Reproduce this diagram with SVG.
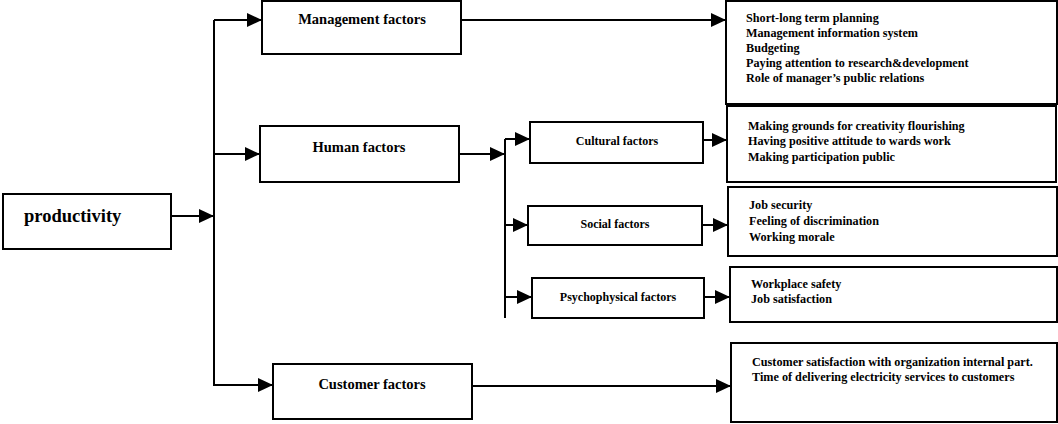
<svg xmlns="http://www.w3.org/2000/svg" width="1058" height="424" viewBox="0 0 1058 424">
<defs>
<style>
.box{fill:#fff;stroke:#000;stroke-width:2}
.ln{fill:none;stroke:#000;stroke-width:2}
.t{font-family:"Liberation Serif","Times New Roman",serif;font-weight:bold;fill:#000}
.lbl{font-size:14.5px;text-anchor:middle}
.sub{font-size:12px;text-anchor:middle}
.li{font-size:12.2px}
</style>
<marker id="ah" viewBox="0 0 15 14" refX="15" refY="7" markerWidth="15" markerHeight="14" markerUnits="userSpaceOnUse" orient="auto">
<path d="M0,0 L15,7 L0,14 Z" fill="#000"/>
</marker>
</defs>
<rect width="1058" height="424" fill="#fff"/>
<g id="connectors">
<path class="ln" d="M214,20 V386"/>
<path class="ln" d="M171,216 H214" marker-end="url(#ah)"/>
<path class="ln" d="M214,20 H262" marker-end="url(#ah)"/>
<path class="ln" d="M214,154 H260" marker-end="url(#ah)"/>
<path class="ln" d="M214,385 H273" marker-end="url(#ah)"/>
<path class="ln" d="M461,20 H726" marker-end="url(#ah)"/>
<path class="ln" d="M472,386 H731" marker-end="url(#ah)"/>
<path class="ln" d="M459,154 H505" marker-end="url(#ah)"/>
<path class="ln" d="M505,139 V318"/>
<path class="ln" d="M505,139 H530" marker-end="url(#ah)"/>
<path class="ln" d="M505,225 H528" marker-end="url(#ah)"/>
<path class="ln" d="M505,297 H532" marker-end="url(#ah)"/>
<path class="ln" d="M703,140 H727" marker-end="url(#ah)"/>
<path class="ln" d="M702,225 H728" marker-end="url(#ah)"/>
<path class="ln" d="M704,297 H730" marker-end="url(#ah)"/>
</g>
<g id="productivity">
<rect class="box" x="3" y="194" width="168" height="55"/>
<text class="t" x="24" y="222" font-size="18.5">productivity</text>
</g>
<g id="management">
<rect class="box" x="262" y="1" width="199" height="53"/>
<text class="t lbl" x="362" y="24">Management factors</text>
</g>
<g id="human">
<rect class="box" x="260" y="126" width="199" height="56"/>
<text class="t lbl" x="359" y="152">Human factors</text>
</g>
<g id="customer">
<rect class="box" x="273" y="364" width="199" height="55"/>
<text class="t lbl" x="372" y="389">Customer factors</text>
</g>
<g id="cultural">
<rect class="box" x="530" y="122" width="173" height="41"/>
<text class="t sub" x="617" y="145">Cultural factors</text>
</g>
<g id="social">
<rect class="box" x="528" y="206" width="174" height="39"/>
<text class="t sub" x="615" y="228">Social factors</text>
</g>
<g id="psychophysical">
<rect class="box" x="532" y="278" width="172" height="40"/>
<text class="t sub" x="618" y="301">Psychophysical factors</text>
</g>
<g id="management-items">
<rect class="box" x="726" y="1" width="331" height="103"/>
<text class="t li" x="746" y="22">Short-long term planning</text>
<text class="t li" x="746" y="37">Management information system</text>
<text class="t li" x="746" y="52">Budgeting</text>
<text class="t li" x="746" y="67">Paying attention to research&amp;development</text>
<text class="t li" x="746" y="82">Role of manager’s public relations</text>
</g>
<g id="cultural-items">
<rect class="box" x="727" y="106" width="329" height="76"/>
<text class="t li" x="748" y="130">Making grounds for creativity flourishing</text>
<text class="t li" x="748" y="145">Having positive attitude to wards work</text>
<text class="t li" x="748" y="161">Making participation public</text>
</g>
<g id="social-items">
<rect class="box" x="728" y="187" width="329" height="69"/>
<text class="t li" x="749" y="209">Job security</text>
<text class="t li" x="749" y="225">Feeling of discrimination</text>
<text class="t li" x="749" y="241">Working morale</text>
</g>
<g id="psychophysical-items">
<rect class="box" x="730" y="267" width="327" height="55"/>
<text class="t li" x="751" y="288">Workplace safety</text>
<text class="t li" x="751" y="303">Job satisfaction</text>
</g>
<g id="customer-items">
<rect class="box" x="731" y="343" width="326" height="79"/>
<text class="t li" x="752" y="366">Customer satisfaction with organization internal part.</text>
<text class="t li" x="752" y="381">Time of delivering electricity services to customers</text>
</g>
</svg>
